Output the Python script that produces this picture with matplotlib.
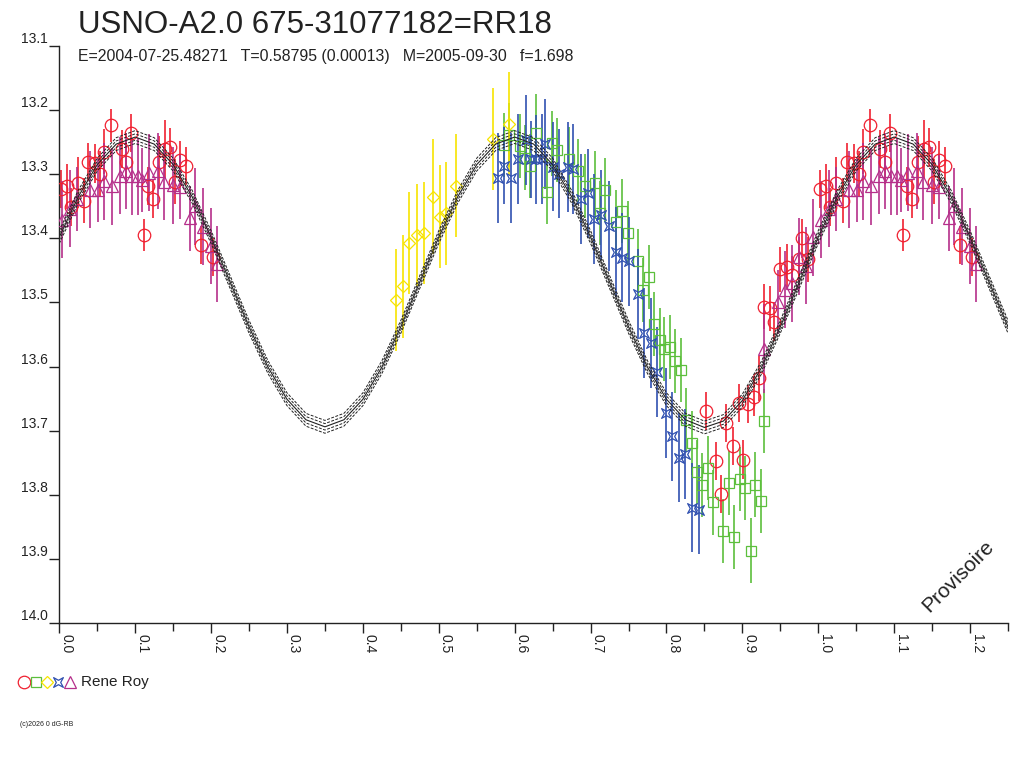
import matplotlib
matplotlib.use("Agg")
import matplotlib.pyplot as plt
import numpy as np
from matplotlib.path import Path
from matplotlib.lines import Line2D

plt.rcParams['font.family'] = ['Liberation Sans', 'DejaVu Sans']

# ---------------- data (phase in [0,1), magnitude, error) ----------------
red_phase = [0.002, 0.010, 0.015, 0.024, 0.033, 0.038, 0.047, 0.054, 0.059, 0.068,
             0.082, 0.088, 0.095, 0.111, 0.117, 0.124, 0.131, 0.139, 0.146, 0.152,
             0.159, 0.167, 0.187, 0.203, 0.852, 0.865, 0.872, 0.879, 0.888, 0.895,
             0.901, 0.908, 0.915, 0.922, 0.929, 0.937, 0.942, 0.950, 0.959, 0.965,
             0.974, 0.979, 0.987]
red_mag = [13.323, 13.319, 13.351, 13.313, 13.341, 13.281, 13.283, 13.299, 13.265, 13.224,
           13.261, 13.281, 13.236, 13.395, 13.318, 13.339, 13.281, 13.261, 13.258, 13.312,
           13.278, 13.287, 13.410, 13.429, 13.669, 13.747, 13.799, 13.688, 13.724, 13.657,
           13.745, 13.658, 13.647, 13.618, 13.507, 13.509, 13.530, 13.448, 13.444, 13.457,
           13.433, 13.400, 13.433]
red_err = [0.030, 0.035, 0.030, 0.040, 0.035, 0.030, 0.030, 0.035, 0.035, 0.025,
           0.030, 0.035, 0.030, 0.025, 0.030, 0.030, 0.040, 0.045, 0.030, 0.035,
           0.030, 0.030, 0.030, 0.030, 0.030, 0.030, 0.030, 0.030, 0.030, 0.030,
           0.030, 0.030, 0.030, 0.035, 0.035, 0.035, 0.030, 0.035, 0.035, 0.030,
           0.035, 0.030, 0.035]

green_phase = [0.586, 0.593, 0.607, 0.614, 0.620, 0.628, 0.642, 0.649, 0.656, 0.671,
               0.684, 0.692, 0.706, 0.712, 0.719, 0.734, 0.741, 0.749, 0.762, 0.769,
               0.777, 0.784, 0.791, 0.797, 0.804, 0.811, 0.819, 0.826, 0.833, 0.840,
               0.847, 0.855, 0.861, 0.875, 0.882, 0.889, 0.897, 0.904, 0.911, 0.917,
               0.925, 0.929]
green_mag = [13.254, 13.239, 13.256, 13.274, 13.287, 13.235, 13.327, 13.252, 13.262, 13.277,
             13.295, 13.318, 13.314, 13.360, 13.324, 13.375, 13.358, 13.392, 13.435, 13.480,
             13.460, 13.533, 13.558, 13.573, 13.569, 13.591, 13.605, 13.683, 13.719, 13.764,
             13.785, 13.758, 13.812, 13.857, 13.782, 13.866, 13.776, 13.789, 13.887, 13.784,
             13.810, 13.685]
green_err = [0.050] * 5 + [0.060] + [0.050] * 36

yellow_phase = [0.444, 0.453, 0.461, 0.471, 0.480, 0.492, 0.501, 0.510, 0.523, 0.571, 0.593]
yellow_mag = [13.496, 13.475, 13.407, 13.395, 13.392, 13.335, 13.366, 13.361, 13.318, 13.245, 13.221]
yellow_err = [0.080, 0.080, 0.080, 0.080, 0.080, 0.090, 0.080, 0.080, 0.080, 0.080, 0.080]

blue_phase = [0.578, 0.586, 0.595, 0.604, 0.615, 0.622, 0.628, 0.636, 0.640, 0.650,
              0.659, 0.670, 0.677, 0.687, 0.696, 0.705, 0.714, 0.724, 0.733, 0.742,
              0.751, 0.763, 0.771, 0.780, 0.788, 0.799, 0.807, 0.816, 0.825, 0.834, 0.843]
blue_mag = [13.306, 13.287, 13.306, 13.276, 13.247, 13.277, 13.277, 13.276, 13.253, 13.288,
            13.299, 13.289, 13.292, 13.339, 13.330, 13.370, 13.364, 13.381, 13.421, 13.430,
            13.436, 13.487, 13.548, 13.563, 13.609, 13.672, 13.709, 13.742, 13.736, 13.820, 13.823]
blue_err = [0.070, 0.060, 0.070, 0.070, 0.070, 0.060, 0.070, 0.070, 0.070, 0.070,
            0.070, 0.070, 0.070, 0.070, 0.070, 0.070, 0.070, 0.070, 0.070, 0.070,
            0.070, 0.070, 0.070, 0.070, 0.070, 0.070, 0.070, 0.070, 0.070, 0.070, 0.070]

mag_phase = [0.004, 0.014, 0.023, 0.040, 0.051, 0.059, 0.070, 0.080, 0.088, 0.096,
             0.104, 0.109, 0.118, 0.130, 0.138, 0.150, 0.159, 0.172, 0.179, 0.189,
             0.200, 0.208, 0.929, 0.947, 0.956, 0.965, 0.975, 0.984, 0.993]
mag_mag = [13.371, 13.354, 13.338, 13.324, 13.325, 13.311, 13.319, 13.302, 13.295, 13.303,
           13.303, 13.309, 13.298, 13.295, 13.312, 13.317, 13.320, 13.369, 13.350, 13.382,
           13.412, 13.440, 13.572, 13.499, 13.480, 13.470, 13.429, 13.443, 13.398]
mag_err = [0.060, 0.060, 0.050, 0.060, 0.050, 0.060, 0.060, 0.060, 0.060, 0.060,
           0.060, 0.050, 0.060, 0.060, 0.060, 0.060, 0.050, 0.050, 0.060, 0.060,
           0.060, 0.060, 0.070, 0.050, 0.060, 0.060, 0.060, 0.060, 0.060]

# fitted light curve, read at steps of 0.025 in phase
curve_phase = [round(0.025 * i, 3) for i in range(51)]
curve_mag = [13.398, 13.335, 13.285, 13.253, 13.242, 13.253, 13.285, 13.335, 13.398, 13.468,
             13.538, 13.601, 13.651, 13.683, 13.694, 13.683, 13.651, 13.601, 13.538, 13.468,
             13.398, 13.335, 13.285, 13.253, 13.242, 13.253, 13.285, 13.335, 13.398, 13.468,
             13.538, 13.601, 13.651, 13.683, 13.695, 13.685, 13.653, 13.602, 13.538, 13.468,
             13.398, 13.335, 13.285, 13.253, 13.242, 13.253, 13.285, 13.335, 13.398, 13.468,
             13.538]
curve_offsets = [-0.010, -0.005, 0.005, 0.010]

title = "USNO-A2.0 675-31077182=RR18"
subtitle = "E=2004-07-25.48271   T=0.58795 (0.00013)   M=2005-09-30   f=1.698"
observer = "Rene Roy"
xticks = [0.0, 0.1, 0.2, 0.3, 0.4, 0.5, 0.6, 0.7, 0.8, 0.9, 1.0, 1.1, 1.2]
yticks = [13.1, 13.2, 13.3, 13.4, 13.5, 13.6, 13.7, 13.8, 13.9, 14.0]

# ---------------- styles ----------------
C_RED = '#f02030'
C_GREEN = '#5cbf3c'
C_YELLOW = '#f7e400'
C_BLUE = '#3050b0'
C_MAG = '#b52f8a'
C_TXT = '#222222'

star = Path([(-1, -1), (0, -0.45), (1, -1), (0.45, 0), (1, 1), (0, 0.45), (-1, 1), (-0.45, 0), (-1, -1)],
            [Path.MOVETO] + [Path.LINETO] * 7 + [Path.CLOSEPOLY])

fig = plt.figure(figsize=(10.24, 7.68), dpi=100)
ax = fig.add_axes([59.3 / 1024, 1 - 623 / 768, (1008 - 59.3) / 1024, (623 - 46) / 768])

XMAX = 1.248


def extend(ph, m, e):
    ph = np.asarray(ph); m = np.asarray(m); e = np.asarray(e)
    sel = ph + 1 <= XMAX + 0.01
    return (np.concatenate([ph, ph[sel] + 1]), np.concatenate([m, m[sel]]),
            np.concatenate([e, e[sel]]))


series = [
    (red_phase, red_mag, red_err, C_RED, 'o', 9.0),
    (green_phase, green_mag, green_err, C_GREEN, 's', 7.0),
    (yellow_phase, yellow_mag, yellow_err, C_YELLOW, 'D', 6.5),
    (blue_phase, blue_mag, blue_err, C_BLUE, star, 7.0),
    (mag_phase, mag_mag, mag_err, C_MAG, '^', 9.0),
]
for ph, m, e, c, mk, ms in series:
    x, y, err = extend(ph, m, e)
    ax.errorbar(x, y, yerr=err, fmt='none', ecolor=c, elinewidth=1.2, capsize=0, zorder=2)
    ax.plot(x, y, linestyle='none', marker=mk, ms=ms, mfc='none', mec=c, mew=0.9, zorder=3)

ax.plot(curve_phase, curve_mag, color=C_TXT, lw=0.8, zorder=4)
for off in curve_offsets:
    ax.plot(curve_phase, np.asarray(curve_mag) + off, color=C_TXT, lw=0.7,
            dashes=(3, 1.5), zorder=4)

ax.set_xlim(0, XMAX)
ax.set_ylim(14.0, 13.1)
ax.spines['top'].set_visible(False)
ax.spines['right'].set_visible(False)
for s in ('left', 'bottom'):
    ax.spines[s].set_color(C_TXT)
    ax.spines[s].set_linewidth(1.0)

ax.set_xticks(xticks)
ax.set_xticks([t + 0.05 for t in xticks], minor=True)
ax.set_xticklabels([f"{t:.1f}" for t in xticks], rotation=-90, ha='left', va='top',
                   fontsize=10, color=C_TXT)
ax.tick_params(axis='x', which='major', direction='out', length=7, width=1.0, color=C_TXT, pad=1)
ax.tick_params(axis='x', which='minor', direction='out', length=6, width=1.0, color=C_TXT)
ax.set_yticks(yticks)
ax.set_yticklabels([f"{t:.1f}" for t in yticks], fontsize=10, color=C_TXT)
for lab in ax.get_yticklabels():
    lab.set_va('bottom')
ax.tick_params(axis='y', direction='out', length=7, width=1.0, color=C_TXT, pad=1)

# titles
fig.text(78 / 1024, 1 - 33 / 768, title, fontsize=22.5, color=C_TXT, va='baseline', ha='left')
fig.text(78 / 1024, 1 - 61 / 768, subtitle, fontsize=11.4, color=C_TXT, va='baseline', ha='left')

# watermark
fig.text(958 / 1024, 1 - 576 / 768, 'Provisoire', rotation=45, fontsize=15, color=C_TXT,
         ha='center', va='center')

# legend row
ly = 1 - 682 / 768
for xpx, c, mk, ms in [(24, C_RED, 'o', 9.0), (36, C_GREEN, 's', 7.0), (47, C_YELLOW, 'D', 6.5),
                       (58, C_BLUE, star, 7.0), (70, C_MAG, '^', 9.0)]:
    fig.add_artist(Line2D([xpx / 1024], [ly], transform=fig.transFigure, marker=mk, ms=ms,
                          mfc='none', mec=c, mew=0.9, linestyle='none'))
fig.text(81 / 1024, ly, observer, fontsize=11, color=C_TXT, va='center', ha='left')

fig.text(20 / 1024, 1 - 725 / 768, "(c)2026 0 dG-RB", fontsize=5, color=C_TXT, va='center', ha='left')

fig.savefig('out.png', dpi=100)
